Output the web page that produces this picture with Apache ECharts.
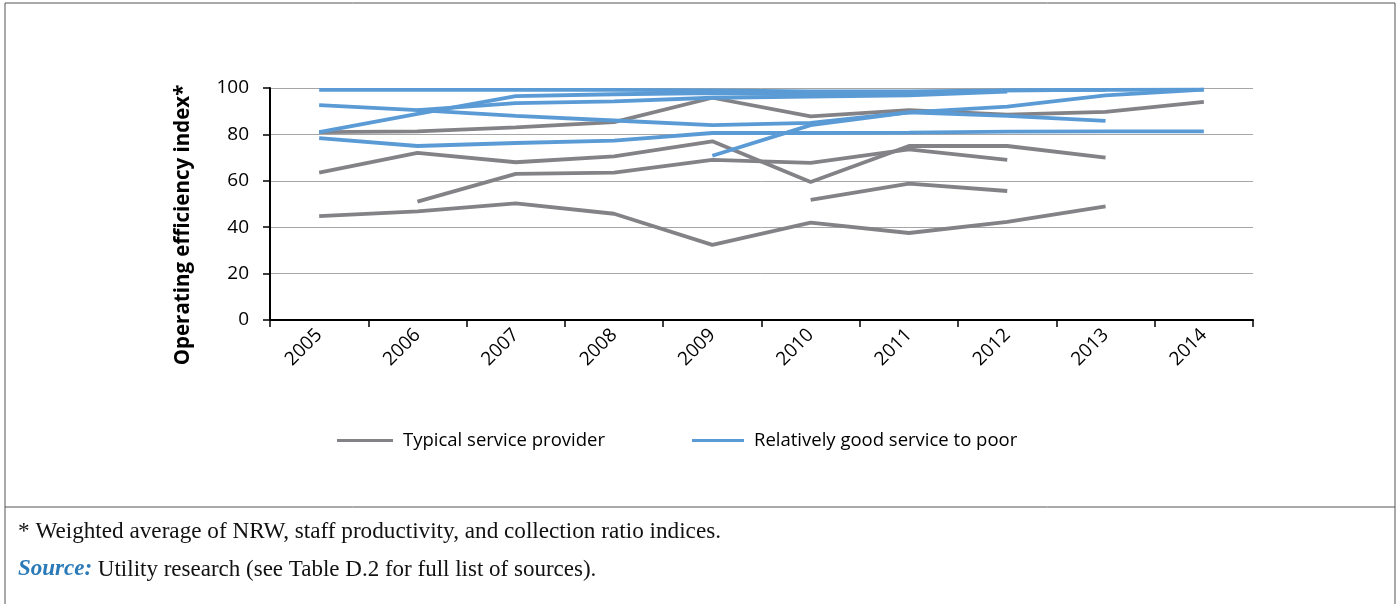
<!DOCTYPE html>
<html>
<head>
<meta charset="utf-8">
<script src="https://cdn.jsdelivr.net/npm/echarts@6/dist/echarts.min.js"></script>
<style>
html,body{margin:0;padding:0;background:#fff;}
#c{width:1400px;height:604px;}
</style>
</head>
<body>
<div id="c"></div>
<script>
const years = ['2005','2006','2007','2008','2009','2010','2011','2012','2013','2014'];
const yTicks = [0, 20, 40, 60, 80, 100];
const typicalName = 'Typical service provider';
const goodName = 'Relatively good service to poor';

// Typical service providers (gray)
const typical1 = [63.5, 72, 68, 70.5, 77, 59.5, 75, 75, 70, null];
const typical2 = [null, 51, 63, 63.5, 69, 67.7, 73.5, 69, null, null];
const typical3 = [null, null, null, null, null, 51.8, 58.8, 55.6, null, null];
const typical4 = [44.8, 46.8, 50.3, 45.8, 32.4, 42, 37.5, 42.3, 49, null];
const typical5 = [81, 81.3, 83, 85.3, 95.8, 87.8, 90.5, 88.5, 89.7, 94];

// Relatively good service to poor (blue)
const good1 = [99.2, 99.2, 99.2, 99.2, 99, 98.5, 98.5, 99, 99.2, 99.3];
const good2 = [92.6, 90.5, 88, 86, 84, 85, 89.5, 88, 85.8, null];
const good3 = [81, 88.8, 96.5, 97.3, 97.8, 97.2, 97.5, 99, 99.2, null];
const good4 = [78.4, 75, 76.3, 77.3, 80.6, 80.6, 80.8, 81.2, 81.3, 81.3];
const good5 = [null, null, null, null, 70.8, 84, 89.5, 92, 96.8, 99.3];
const good6 = [null, 90.5, 93.5, 94.2, 95.8, 96.3, 96.8, 98.5, null, null];

const gray = '#838387';
const blue = '#5b9bd5';

function mk(name, data, color){
  return {
    name: name, type: 'line', data: data, symbol: 'none',
    connectNulls: false, smooth: false,
    lineStyle: {color: color, width: 3.8},
    itemStyle: {color: color},
    emphasis: {disabled: true}
  };
}

const series = [
  mk(typicalName, typical1, gray),
  mk(typicalName, typical2, gray),
  mk(typicalName, typical3, gray),
  mk(typicalName, typical4, gray),
  mk(typicalName, typical5, gray),
  mk(goodName, good1, blue),
  mk(goodName, good2, blue),
  mk(goodName, good3, blue),
  mk(goodName, good4, blue),
  mk(goodName, good5, blue),
  mk(goodName, good6, blue)
];

const chart = echarts.init(document.getElementById('c'), null, {renderer: 'canvas'});
const font = 'Open Sans, Noto Sans, sans-serif';
const serif = 'Liberation Serif, DejaVu Serif, serif';
chart.setOption({
  animation: false,
  backgroundColor: '#fff',
  grid: {left: 270, right: 147, top: 88, bottom: 284, containLabel: false},
  legend: [
    {data: [typicalName], left: 332, top: 426, icon: 'rect', itemWidth: 56, itemHeight: 3, itemGap: 12,
     textStyle: {fontFamily: font, fontSize: 18.5, color: '#000', padding: [0,0,0,5]}},
    {data: [goodName], left: 687, top: 426, icon: 'rect', itemWidth: 52, itemHeight: 3,
     textStyle: {fontFamily: font, fontSize: 18.5, color: '#000', padding: [0,0,0,5]}}
  ],
  xAxis: {
    type: 'category', data: years, boundaryGap: true,
    axisLine: {lineStyle: {color: '#000', width: 2}},
    axisTick: {show: true, alignWithLabel: false, length: 7, lineStyle: {color: '#000', width: 1.5}},
    axisLabel: {rotate: 45, fontFamily: font, fontSize: 19, color: '#000', margin: 12},
    splitLine: {show: false}
  },
  yAxis: {
    type: 'value', min: yTicks[0], max: yTicks[yTicks.length-1], interval: 20,
    axisLine: {show: true, lineStyle: {color: '#000', width: 2}},
    axisTick: {show: true, length: 7, lineStyle: {color: '#000', width: 1.5}},
    axisLabel: {fontFamily: font, fontSize: 19, color: '#000', margin: 21},
    splitLine: {show: true, lineStyle: {color: '#a6a6a6', width: 1}}
  },
  series: series,
  graphic: [
    {type: 'rect', shape: {x: 5, y: 3, width: 1390, height: 610}, style: {fill: 'none', stroke: '#555', lineWidth: 1}, silent: true},
    {type: 'line', shape: {x1: 5, y1: 507, x2: 1395, y2: 507}, style: {stroke: '#555', lineWidth: 1}, silent: true},
    {type: 'text', x: 183, y: 225, rotation: Math.PI / 2, silent: true,
     style: {text: 'Operating efficiency index*', fontFamily: font, fontSize: 20.5, fontWeight: 'bold', fill: '#000', align: 'center', verticalAlign: 'middle'}},
    {type: 'text', left: 18, top: 520, style: {text: '* Weighted average of NRW, staff productivity, and collection ratio indices.', fontFamily: serif, fontSize: 23.2, fill: '#111'}},
    {type: 'text', left: 18, top: 558, style: {
      text: '{s|Source:} Utility research (see Table D.2 for full list of sources).',
      fontFamily: serif, fontSize: 23, fill: '#111',
      rich: {s: {fontFamily: serif, fontStyle: 'italic', fontWeight: 'bold', fontSize: 23, fill: '#2a7ab8'}}
    }}
  ]
});
</script>
</body>
</html>
